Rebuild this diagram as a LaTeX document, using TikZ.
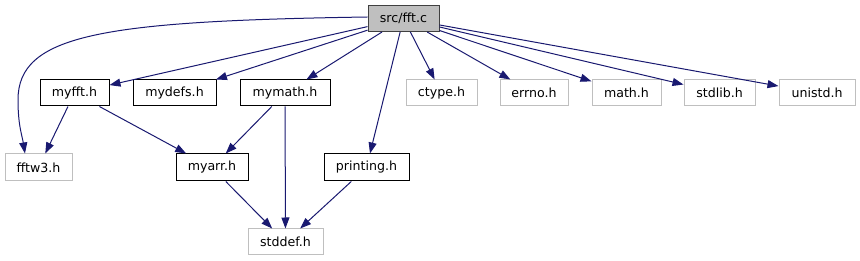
\documentclass[tikz,border=0pt]{standalone}
\usepackage{fontspec}
\setmainfont{DejaVu Sans}
\usetikzlibrary{arrows.meta}
\definecolor{edgec}{HTML}{191970}
\definecolor{sysc}{HTML}{BFBFBF}
\definecolor{rootb}{HTML}{404040}
\begin{document}
\begin{tikzpicture}[x=1pt,y=-1pt,
  box/.style={draw=black, line width=1pt, inner sep=0pt, minimum height=26pt,
    font=\fontsize{12.6}{14}\selectfont, fill=white},
  sys/.style={box, draw=sysc},
  root/.style={box, fill=sysc, draw=rootb},
  edge/.style={draw=edgec, line width=1pt, -{Triangle[length=11pt,width=8pt]}}]
\useasboundingbox (0,0) rectangle (860,261);
% row 1
\node[root, minimum width=71pt] (src) at (403.5,18.5) {src/fft.c};
% row 2
\node[box, minimum width=69pt] (myfft) at (74.5,93) {myfft.h};
\node[box, minimum width=83pt] (mydefs) at (174.5,93) {mydefs.h};
\node[box, minimum width=90pt] (mymath) at (285,93) {mymath.h};
\node[sys, minimum width=71pt] (ctype) at (441.5,93) {ctype.h};
\node[sys, minimum width=68pt] (errno) at (534,93) {errno.h};
\node[sys, minimum width=69pt] (math) at (626.5,93) {math.h};
\node[sys, minimum width=71pt] (stdlib) at (719.5,93) {stdlib.h};
\node[sys, minimum width=76pt] (unistd) at (817,93) {unistd.h};
% row 3
\node[sys, minimum width=67pt, minimum height=27pt] (fftw3) at (38.5,167.5) {fftw3.h};
\node[box, minimum width=72pt, minimum height=27pt] (myarr) at (212,167.5) {myarr.h};
\node[box, minimum width=85pt, minimum height=27pt] (printing) at (366.5,167.5) {printing.h};
% row 4
\node[sys, minimum width=75pt] (stddef) at (285.5,242) {stddef.h};
% edges
\draw[edge] ([yshift=1.5pt]src.west) .. controls (100,21) and (18,35) .. (18,100)
   .. controls (18,125) and (22,135) .. ([xshift=-13.5pt]fftw3.north);
\draw[edge] (src) -- (myfft);
\draw[edge] (src) -- (mydefs);
\draw[edge] (src) -- (mymath);
\draw[edge] (src) -- (printing);
\draw[edge] (src) -- (ctype);
\draw[edge] (src) -- (errno);
\draw[edge] (src) -- (math);
\draw[edge] (src) -- (stdlib);
\draw[edge] (src) -- (unistd);
\draw[edge] (myfft) -- (fftw3);
\draw[edge] (myfft) -- (myarr);
\draw[edge] (mymath) -- (myarr);
\draw[edge] (mymath) -- (stddef);
\draw[edge] (myarr) -- (stddef);
\draw[edge] (printing) -- (stddef);
\end{tikzpicture}
\end{document}
